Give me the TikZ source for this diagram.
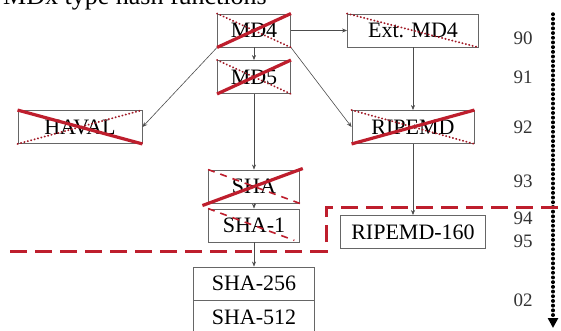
\documentclass[tikz,border=0pt]{standalone}
\usepackage{fontspec}
\setmainfont{Liberation Serif}
\usetikzlibrary{arrows.meta}
\definecolor{strikered}{RGB}{190,30,45}

\tikzset{
  hashbox/.style={draw=black!60, line width=0.9pt, fill=white, inner sep=0pt,
    font=\fontsize{22}{22}\selectfont, minimum height=33pt},
  link/.style={draw=black!70, line width=0.6pt, -{Stealth[length=5pt,width=4pt]}},
  strike/.style={strikered, line width=3.2pt},
  dotstrike/.style={strikered!85!black, line width=1.9pt, line cap=round, dash pattern=on 0.3pt off 3.2pt},
  dashstrike/.style={strikered, line width=1.6pt, dash pattern=on 7pt off 6pt},
  year/.style={font=\fontsize{19}{19}\selectfont, text=black!80},
  timeline/.style={line width=3.4pt, line cap=round, dash pattern=on 0.5pt off 4.2pt,
    -{Triangle[length=10pt,width=10pt]}},
  boundary/.style={strikered, line width=3pt, dash pattern=on 17pt off 8pt},
}

\begin{document}
\begin{tikzpicture}[x=1pt, y=-1pt]
\useasboundingbox (0,0) rectangle (561,331);
\clip (0,0) rectangle (561,331);
% Title (cut off at the top)
\node[anchor=base east, inner sep=0pt, font=\fontsize{26}{26}\selectfont] (title) at (267,4.5) {MDx type hash functions};
% Hash function boxes
\node[hashbox, minimum width=73pt] (md4) at (254,30.5) {MD4};
\node[hashbox, minimum width=73pt] (md5) at (254,77) {MD5};
\node[hashbox, minimum width=131pt] (extmd4) at (413,30.5) {Ext. MD4};
\node[hashbox, minimum width=124pt] (haval) at (80,127) {HAVAL};
\node[hashbox, minimum width=122pt] (ripemd) at (413,127) {RIPEMD};
\node[hashbox, minimum width=91pt] (sha) at (254,186.5) {SHA};
\node[hashbox, minimum width=91pt] (sha1) at (254,225.5) {SHA-1};
\node[hashbox, minimum width=145pt] (ripemd160) at (413,232) {RIPEMD-160};
% SHA-256 / SHA-512 stacked
\node[hashbox, minimum width=121pt] (sha256) at (254,283.5) {SHA-256};
\node[hashbox, minimum width=121pt, anchor=north] (sha512) at (sha256.south) {SHA-512};
% Derivation links
\draw[link] (md4) -- (md5);
\draw[link] (md4) -- (extmd4);
\draw[link] (md4.south west) -- (haval.east);
\draw[link] (md4.south east) -- (ripemd.west);
\draw[link] (extmd4) -- (ripemd);
\draw[link] (md5) -- (sha);
\draw[link] (sha) -- (sha1);
\draw[link] (ripemd) -- (ripemd160);
\draw[link] (sha1) -- (sha256);
% Broken functions
\foreach \n in {md4,md5,extmd4,ripemd} {
  \draw[dotstrike] (\n.north west) -- (\n.south east);
}
\foreach \n in {md4,md5,ripemd} {
  \draw[strike] (\n.south west) -- (\n.north east);
}
\draw[strike, shorten <=-6pt, shorten >=-3pt] (sha.south west) -- (sha.north east);
\draw[dashstrike] (sha.north west) -- (sha.south east);
\draw[dashstrike, shorten >=6pt] (sha1.north west) -- (sha1.south east);
\draw[dotstrike] (haval.south west) -- (haval.north east);
\draw[strike] (haval.north west) -- (haval.south east);
% Years
\foreach \y/\yr in {38/90,77/91,127/92,181/93,218/94,241/95,300/02} {
  \node[year] (y\yr) at (523,\y) {\yr};
}
% Time axis
\coordinate (tstart) at (553,14);
\coordinate (tend) at (553,328);
\draw[timeline] (tstart) -- (tend);
% Red boundary
\coordinate (bleft) at (10,251);
\coordinate (bcorner) at (326,207);
\coordinate (bright) at (570,207);
\draw[boundary] (bleft) -| (bcorner) -- (bright);
\end{tikzpicture}
\end{document}
